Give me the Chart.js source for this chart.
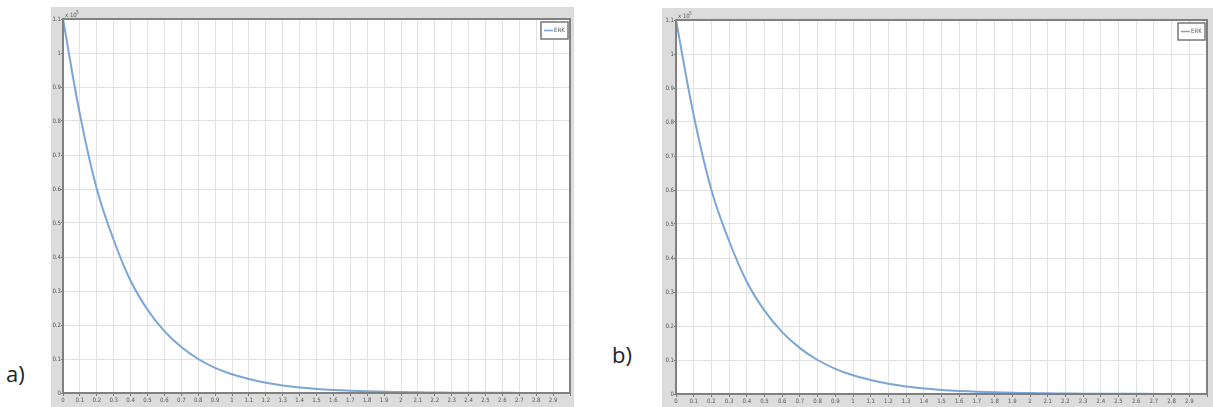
<!DOCTYPE html>
<html><head><meta charset="utf-8">
<script src="https://cdn.jsdelivr.net/npm/chart.js@4/dist/chart.umd.min.js"></script>
<style>
html,body{margin:0;padding:0;background:#fff;width:1213px;height:407px;overflow:hidden;font-family:"Open Sans",sans-serif}
.frame{position:absolute;background:#dcdcdc}
.lab{position:absolute;font-size:22px;color:#222;font-family:"Open Sans",sans-serif}
</style></head><body>
<div class="lab" style="left:6px;top:358px">a)</div>
<div class="lab" style="left:612px;top:339px">b)</div>
<div class="frame" id="fa" style="left:51px;top:7px;width:523px;height:400px"><canvas id="ca"></canvas></div>
<div class="frame" id="fb" style="left:662px;top:8px;width:551px;height:399px"><canvas id="cb"></canvas></div>
<script>
const xValues = [0,0.1,0.2,0.3,0.4,0.5,0.6,0.7,0.8,0.9,1,1.1,1.2,1.3,1.4,1.5,1.6,1.7,1.8,1.9,2,2.1,2.2,2.3,2.4,2.5,2.6,2.7,2.8,2.9,3];
const erkA = [1.1,0.82,0.60,0.45,0.33,0.245,0.182,0.135,0.100,0.074,0.055,0.041,0.030,0.022,0.016,0.012,0.009,0.0067,0.005,0.0037,0.0027,0.002,0.0015,0.0011,0.0008,0.0006,0.00045,0.00033,0.00025,0.00018,0.00013];
const erkB = [1.1,0.82,0.60,0.45,0.33,0.245,0.182,0.135,0.100,0.074,0.055,0.041,0.030,0.022,0.016,0.012,0.009,0.0067,0.005,0.0037,0.0027,0.002,0.0015,0.0011,0.0008,0.0006,0.00045,0.00033,0.00025,0.00018,0.00013];
const seriesLabel = "ERK";
const xTickLabels = ["0","0.1","0.2","0.3","0.4","0.5","0.6","0.7","0.8","0.9","1","1.1","1.2","1.3","1.4","1.5","1.6","1.7","1.8","1.9","2","2.1","2.2","2.3","2.4","2.5","2.6","2.7","2.8","2.9"];
const yTickLabels = ["0","0.1","0.2","0.3","0.4","0.5","0.6","0.7","0.8","0.9","1","1.1"];
const yExponent = "5";

const tickFont = {family:"'DejaVu Sans Condensed','Liberation Sans Narrow',sans-serif", size:6};

const bg = {
  id:'bg',
  beforeDraw(chart){
    const {ctx, chartArea:a} = chart;
    ctx.save();
    ctx.fillStyle = '#fff';
    ctx.fillRect(a.left, a.top, a.right-a.left, a.bottom-a.top);
    ctx.restore();
  }
};

const decor = {
  id:'decor',
  afterDraw(chart){
    const {ctx, chartArea:a} = chart;
    ctx.save();
    ctx.strokeStyle = '#808080';
    ctx.lineWidth = 2;
    ctx.strokeRect(a.left, a.top, a.right-a.left, a.bottom-a.top);
    ctx.fillStyle = '#555';
    ctx.font = "6px 'DejaVu Sans Condensed',sans-serif";
    ctx.textBaseline = 'alphabetic';
    ctx.fillText('x 10', a.left+2, a.top-2);
    ctx.font = "5px 'DejaVu Sans Condensed',sans-serif";
    ctx.fillText(yExponent, a.left+13, a.top-5);
    const w = 27, h = 17;
    const lx = a.right - w - 2, ly = a.top + 3;
    ctx.fillStyle = '#fff';
    ctx.fillRect(lx, ly, w, h);
    ctx.strokeStyle = '#777';
    ctx.lineWidth = 1.5;
    ctx.strokeRect(lx, ly, w, h);
    ctx.strokeStyle = '#7aa6d6';
    ctx.lineWidth = 1.5;
    ctx.beginPath(); ctx.moveTo(lx+3, ly+h/2); ctx.lineTo(lx+12, ly+h/2); ctx.stroke();
    ctx.fillStyle = '#555';
    ctx.font = "6px 'DejaVu Sans Condensed',sans-serif";
    ctx.textBaseline = 'middle';
    ctx.fillText(chart.data.datasets[0].label, lx+13, ly+h/2);
    ctx.restore();
  }
};

function makeChart(id, data, yW, xH, pad){
  const c = document.getElementById(id);
  return new Chart(c, {
    type:'line',
    data:{labels:xValues, datasets:[{label:seriesLabel, data:xValues.map((x,i)=>({x:x,y:data[i]})), borderColor:'#7aa6d6', borderWidth:2, pointRadius:0, tension:0.4, fill:false}]},
    options:{
      responsive:true, maintainAspectRatio:false, animation:false,
      layout:{padding:pad},
      plugins:{legend:{display:false}, tooltip:{enabled:false}},
      scales:{
        x:{type:'linear', min:0, max:3,
          ticks:{stepSize:0.1, autoSkip:false, maxRotation:0, padding:1, color:'#555', font:tickFont,
            callback:(v,i)=> i < xTickLabels.length ? xTickLabels[i] : ''},
          grid:{color:'#e2e2e2', lineWidth:1, tickLength:3, tickColor:'#777', drawOnChartArea:true},
          border:{color:'#808080', width:2},
          afterFit:s=>{s.height = xH;}
        },
        y:{type:'linear', min:0, max:1.1,
          ticks:{stepSize:0.1, autoSkip:false, padding:0, color:'#555', font:tickFont,
            callback:(v,i)=> yTickLabels[i]},
          grid:{color:'#e2e2e2', lineWidth:1, tickLength:2, tickColor:'#777'},
          border:{color:'#808080', width:2},
          afterFit:s=>{s.width = yW;}
        }
      }
    },
    plugins:[bg, decor]
  });
}
makeChart('ca', erkA, 12, 14, {top:12, right:4, left:0, bottom:0});
makeChart('cb', erkB, 14, 13, {top:12, right:6, left:0, bottom:0});
</script>
</body></html>
